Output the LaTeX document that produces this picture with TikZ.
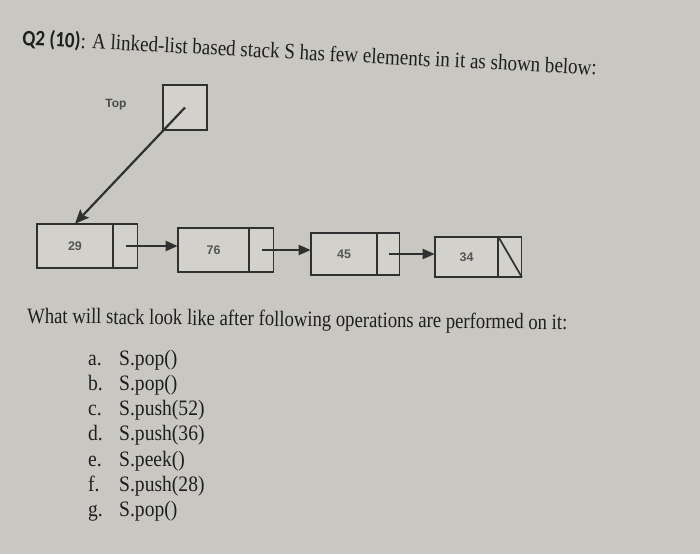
\documentclass[tikz,border=0pt]{standalone}
\usepackage{fontspec}
\usepackage{graphicx}
\setmainfont{Liberation Serif}
\newfontfamily\labelfont{Liberation Sans}
\newfontfamily\qfont{Carlito}
\usetikzlibrary{arrows.meta}
\definecolor{paper}{HTML}{C9C7C1}
\definecolor{cellfill}{HTML}{D3D1CB}
\definecolor{ink}{HTML}{1E1E1E}
\definecolor{boxline}{HTML}{303030}
\begin{document}
\begin{tikzpicture}[x=1pt,y=-1pt,
  datacell/.style={draw=boxline, fill=cellfill, line width=1.7pt, inner sep=0pt, outer sep=0.3pt,
    font=\labelfont\fontsize{12.5}{14}\selectfont\bfseries, text=ink!75},
  ptrcell/.style={draw=boxline, fill=cellfill, line width=1.7pt, inner sep=0pt, outer sep=0.3pt},
  link/.style={draw=boxline, line width=2pt, -{Triangle[length=12pt,width=10pt]}},
  toplink/.style={draw=boxline, line width=2.2pt, -{Stealth[length=14pt,width=12pt,inset=2.5pt]}},
  txt/.style={inner sep=0pt, text=ink, anchor=base west},
  item/.style={inner sep=0pt, anchor=base west, text=ink, font=\fontsize{22}{24}\selectfont}]
\fill[paper] (0,0) rectangle (700,554);
\useasboundingbox (0,0) rectangle (700,554);

\node[txt, rotate=-3, font=\fontsize{22}{24}\selectfont] (title) at (22,45)
  {\resizebox{575pt}{\height}{{\qfont\bfseries Q2 (10)}: A linked-list based stack S has few elements in it as shown below:}};

\node[font=\labelfont\fontsize{12}{14}\selectfont\bfseries, text=ink!80] (toplabel) at (116,105) {Top};
\node[ptrcell, minimum width=44pt, minimum height=45pt] (topbox) at (185,107.5) {};

\node[datacell, minimum width=76pt, minimum height=44pt] (d1) at (75,246) {29};
\node[ptrcell, minimum width=24pt, minimum height=44pt, anchor=west] (p1) at (d1.east) {};
\node[datacell, minimum width=71pt, minimum height=44pt] (d2) at (213.5,250) {76};
\node[ptrcell, minimum width=24pt, minimum height=44pt, anchor=west] (p2) at (d2.east) {};
\node[datacell, minimum width=66pt, minimum height=42pt] (d3) at (344,254) {45};
\node[ptrcell, minimum width=22pt, minimum height=42pt, anchor=west] (p3) at (d3.east) {};
\node[datacell, minimum width=63pt, minimum height=40pt] (d4) at (466.5,257) {34};
\node[ptrcell, minimum width=23pt, minimum height=40pt, anchor=west] (p4) at (d4.east) {};

\draw[toplink] (topbox.center) -- (d1.north);
\draw[link] (p1.center) -- (p1.center -| d2.west);
\draw[link] (p2.center) -- (p2.center -| d3.west);
\draw[link] (p3.center) -- (p3.center -| d4.west);
\draw[draw=boxline, line width=1.7pt] (p4.north west) -- (p4.south east);

\node[txt, rotate=-0.7, font=\fontsize{22}{24}\selectfont] (question) at (27,323)
  {\resizebox{540pt}{\height}{What will stack look like after following operations are performed on it:}};

\foreach \l/\t [count=\i from 0] in {a/S.pop(), b/S.pop(), c/S.push(52), d/S.push(36), e/S.peek(), f/S.push(28), g/S.pop()} {
  \node[item] (lab\l) at (88,{365+25.3*\i}) {\scalebox{0.89}[1]{\l.}};
  \node[item] (op\l) at (119,{365+25.3*\i}) {\scalebox{0.89}[1]{\t}};
}
\end{tikzpicture}
\end{document}
